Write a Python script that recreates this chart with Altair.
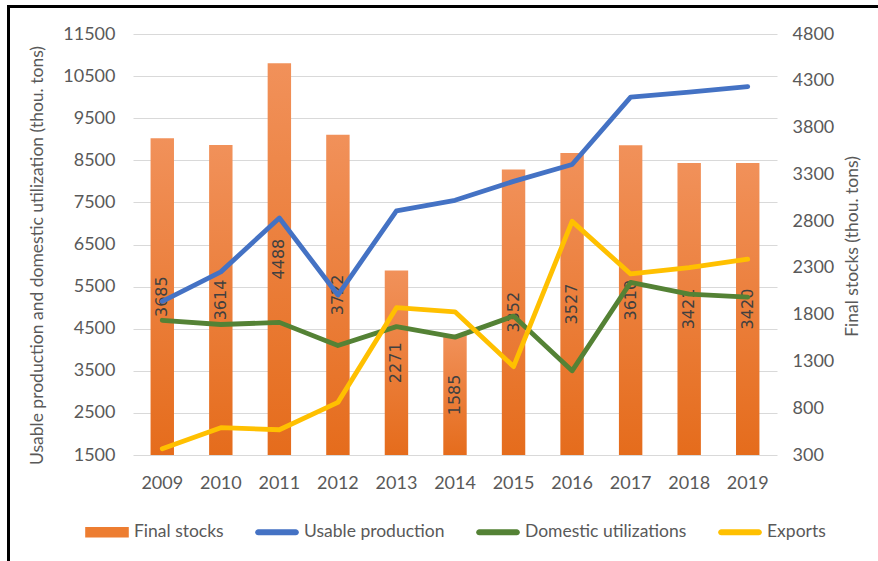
import altair as alt
import pandas as pd

years = ["2009", "2010", "2011", "2012", "2013", "2014", "2015", "2016", "2017", "2018", "2019"]
final_stocks = [3685, 3614, 4488, 3722, 2271, 1585, 3352, 3527, 3610, 3421, 3420]
usable_production = [5150, 5850, 7130, 5300, 7300, 7550, 8000, 8400, 10000, 10120, 10250]
domestic_utilizations = [4700, 4600, 4650, 4100, 4550, 4300, 4800, 3500, 5600, 5320, 5250]
exports = [1650, 2150, 2100, 2750, 5000, 4900, 3600, 7050, 5800, 5950, 6150]

series_names = ["Final stocks", "Usable production", "Domestic utilizations", "Exports"]
series_colors = ["#ED7D31", "#4472C4", "#548235", "#FFC000"]
series_shapes = [
    "M-1,-0.24H1V0.24H-1Z",
    "M-0.86,-0.14H0.86A0.14,0.14,0,0,1,0.86,0.14H-0.86A0.14,0.14,0,0,1,-0.86,-0.14Z",
    "M-0.86,-0.14H0.86A0.14,0.14,0,0,1,0.86,0.14H-0.86A0.14,0.14,0,0,1,-0.86,-0.14Z",
    "M-0.86,-0.14H0.86A0.14,0.14,0,0,1,0.86,0.14H-0.86A0.14,0.14,0,0,1,-0.86,-0.14Z",
]
left_ticks = list(range(1500, 11501, 1000))
right_ticks = list(range(300, 4801, 500))

bars_df = pd.DataFrame({"year": years, "stocks": final_stocks})
lines_df = pd.concat([
    pd.DataFrame({"year": years, "series": "Usable production", "value": usable_production}),
    pd.DataFrame({"year": years, "series": "Domestic utilizations", "value": domestic_utilizations}),
    pd.DataFrame({"year": years, "series": "Exports", "value": exports}),
])
frame_df = pd.DataFrame({"k": [0]})

FONT = "Lato"
GRAY = "#595959"

x_enc = alt.X(
    "year:O",
    sort=years,
    scale=alt.Scale(paddingInner=0.6, paddingOuter=0.3),
    axis=alt.Axis(title=None, labelAngle=0, domain=False, ticks=False, grid=False,
                  labelFont=FONT, labelFontSize=18, labelColor=GRAY, labelPadding=19),
)

right_scale = alt.Scale(domain=[300, 4800], nice=False, zero=False, clamp=True)
left_scale = alt.Scale(domain=[1500, 11500], nice=False, zero=False)
color_scale = alt.Scale(domain=series_names, range=series_colors)

right_axis = alt.Axis(orient="right", title="Final stocks (thou. tons)", values=right_ticks,
                      domain=False, ticks=False, grid=False, format="d",
                      labelFont=FONT, labelFontSize=18, labelColor=GRAY, labelPadding=15,
                      titleFont=FONT, titleFontSize=17.5, titleColor=GRAY, titleFontWeight="normal",
                      titleAngle=270, titleX=75, titleY=212, titleAlign="center",
                      titleBaseline="middle")
left_axis = alt.Axis(orient="left", title="Usable production and domestic utilization (thou. tons)",
                     values=left_ticks, domain=False, ticks=False, grid=True,
                     gridColor="#D9D9D9", gridWidth=1, format="d",
                     labelFont=FONT, labelFontSize=18, labelColor=GRAY, labelPadding=18,
                     titleFont=FONT, titleFontSize=17.5, titleColor=GRAY, titleFontWeight="normal",
                     titleAngle=270, titleX=-96, titleY=221, titleAlign="center",
                     titleBaseline="middle")
legend = alt.Legend(title=None, orient="none", direction="horizontal",
                    legendX=-48, legendY=476, columns=4, columnPadding=31,
                    symbolSize=1900, symbolOpacity=1, symbolStrokeWidth=0,
                    labelFont=FONT, labelFontSize=17.5, labelColor=GRAY, labelLimit=400,
                    labelOffset=5, padding=0)

bars = alt.Chart(bars_df).mark_bar(
    color=alt.Gradient(
        gradient="linear",
        stops=[alt.GradientStop(color="#F1915A", offset=0),
               alt.GradientStop(color="#E56C1C", offset=1)],
        x1=0, x2=0, y1=0, y2=1,
    )
).encode(
    x=x_enc,
    y=alt.Y("stocks:Q", scale=right_scale, axis=right_axis),
)

labels = alt.Chart(bars_df).transform_calculate(
    mid="(datum.stocks + 300) / 2"
).mark_text(angle=270, font="DejaVu Sans", fontSize=16, color="#404040",
            align="center", baseline="middle").encode(
    x=x_enc,
    y=alt.Y("mid:Q", scale=right_scale, axis=right_axis),
    text=alt.Text("stocks:Q", format="d"),
)

lines = alt.Chart(lines_df).mark_line(strokeWidth=4.8, strokeCap="round", strokeJoin="round").encode(
    x=x_enc,
    y=alt.Y("value:Q", scale=left_scale, axis=left_axis),
    color=alt.Color("series:N", scale=color_scale, legend=legend),
    detail="series:N",
)

legend_pts = alt.Chart(lines_df).mark_point(filled=True, opacity=0).encode(
    x=x_enc,
    y=alt.Y("value:Q", scale=left_scale, axis=left_axis),
    color=alt.Color("series:N", scale=color_scale, legend=legend),
    shape=alt.Shape("series:N", scale=alt.Scale(domain=series_names, range=series_shapes),
                    legend=legend),
)

frame_top = alt.Chart(frame_df).mark_rule(color="black", strokeWidth=3).encode(
    x=alt.value(-126), x2=alt.value(800), y=alt.value(-27.5)
)
frame_left = alt.Chart(frame_df).mark_rule(color="black", strokeWidth=3).encode(
    x=alt.value(-124.5), y=alt.value(-29), y2=alt.value(600)
)

chart = alt.layer(
    alt.layer(bars, labels),
    alt.layer(lines, legend_pts),
    frame_top,
    frame_left,
).resolve_scale(y="independent").properties(
    width=644, height=421,
    autosize=alt.AutoSizeParams(type="none"),
    padding={"left": 133, "top": 34, "right": 101, "bottom": 106},
    background="white",
).configure_view(stroke=None)

chart.save("out.html", embed_options={"renderer": "svg", "actions": False})
